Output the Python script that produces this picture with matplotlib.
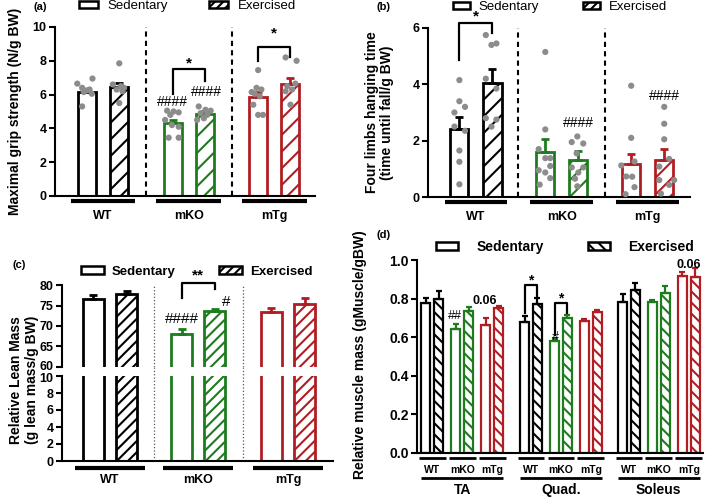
import numpy as np
import matplotlib.pyplot as plt
from matplotlib.patches import Patch
from matplotlib.transforms import blended_transform_factory, ScaledTranslation

plt.rcParams['font.family'] = ['Liberation Sans', 'DejaVu Sans']
plt.rcParams['hatch.linewidth'] = 1.5

W, H = 709, 497
GREEN = '#1e7b1e'
RED = '#b01e23'
GREY = '#8c8c8c'
colors = ['black', GREEN, RED]
genotypes = ['WT', 'mKO', 'mTg']
legend_labels = ['Sedentary', 'Exercised']

# (a) maximal grip strength, order: WT sed, WT ex, mKO sed, mKO ex, mTg sed, mTg ex
grip_mean = [6.15, 6.45, 4.3, 4.85, 5.85, 6.65]
grip_err = [0.15, 0.25, 0.2, 0.15, 0.3, 0.35]
grip_pts = [
    [6.65, 6.4, 6.95, 6.25, 6.05, 6.3, 5.3, 6.15],
    [7.85, 6.6, 6.5, 6.4, 6.3, 6.2, 5.5],
    [5.05, 5.0, 4.95, 4.8, 4.5, 4.2, 4.1, 3.45, 3.45],
    [5.3, 5.1, 5.05, 4.9, 4.8, 4.6, 4.5],
    [7.45, 6.4, 6.3, 6.15, 6.05, 5.4, 4.8, 4.8, 5.9],
    [8.2, 8.0, 6.5, 6.3, 6.2, 5.4, 6.65],
]
grip_dx = [
    [-0.3, -0.15, 0.17, 0.0, 0.15, 0.08, -0.15, -0.1],
    [0.0, -0.2, 0.05, 0.15, -0.08, 0.1, 0.0],
    [-0.17, 0.03, 0.19, -0.07, -0.23, -0.02, 0.19, -0.12, 0.19],
    [-0.19, 0.02, 0.18, -0.13, 0.07, -0.03, -0.24],
    [0.0, -0.05, 0.1, -0.2, -0.1, -0.15, 0.0, 0.15, 0.05],
    [-0.15, 0.19, -0.1, 0.05, -0.15, 0.0, 0.15],
]

# (b) four limbs hanging time
hang_mean = [2.41, 4.05, 1.58, 1.32, 1.17, 1.3]
hang_err = [0.43, 0.5, 0.47, 0.3, 0.37, 0.4]
hang_pts = [
    [4.15, 3.4, 3.0, 3.2, 2.5, 2.35, 1.65, 1.25, 0.45],
    [5.75, 5.4, 5.45, 4.2, 3.85, 2.8, 2.75, 2.5],
    [5.15, 2.4, 1.7, 1.38, 1.38, 1.1, 0.95, 0.87, 0.67, 0.44],
    [2.15, 1.95, 1.9, 1.55, 1.05, 1.05, 0.87, 0.65, 0.38],
    [3.95, 2.1, 1.12, 1.26, 0.73, 0.72, 0.35, 0.1],
    [3.2, 2.6, 2.05, 1.35, 1.08, 0.6, 0.6, 0.43, 0.12],
]
hang_dx = [
    [0.0, 0.0, -0.15, 0.17, -0.15, 0.17, 0.0, 0.0, 0.0],
    [-0.2, -0.03, 0.12, -0.2, 0.12, -0.2, 0.12, -0.03],
    [0.0, 0.0, -0.2, 0.0, 0.15, 0.15, -0.2, 0.0, 0.15, -0.17],
    [-0.03, -0.2, 0.15, -0.05, -0.2, 0.15, 0.0, -0.1, -0.03],
    [0.0, 0.0, -0.3, 0.1, -0.15, 0.03, 0.1, -0.17],
    [0.0, 0.0, 0.0, 0.15, -0.15, 0.3, -0.15, 0.15, -0.1],
]

# (c) relative lean mass
lean_mean = [76.6, 77.8, 68.1, 73.7, 73.3, 75.4]
lean_err = [1.0, 0.8, 1.2, 0.5, 1.2, 1.4]

# (d) relative muscle mass: TA, Quad., Soleus
muscles = ['TA', 'Quad.', 'Soleus']
muscle_mean = [
    [0.776, 0.80, 0.642, 0.734, 0.664, 0.75],
    [0.681, 0.772, 0.578, 0.70, 0.684, 0.733],
    [0.784, 0.845, 0.781, 0.828, 0.917, 0.914],
]
muscle_err = [
    [0.025, 0.04, 0.024, 0.021, 0.036, 0.012],
    [0.031, 0.03, 0.014, 0.014, 0.009, 0.008],
    [0.038, 0.034, 0.012, 0.038, 0.023, 0.043],
]


def box(l, t, r, b):
    return [l / W, 1 - b / H, (r - l) / W, (b - t) / H]


def style(ax, ticksize=9):
    for s in ['top', 'right']:
        ax.spines[s].set_visible(False)
    for s in ['left', 'bottom']:
        ax.spines[s].set_linewidth(1.5)
    ax.set_xticks([])
    ax.tick_params(axis='y', width=1.5, length=4, labelsize=ticksize, pad=2)
    for t in ax.get_yticklabels():
        t.set_fontweight('bold')


def bars(ax, xs, means, errs, width, hatch, lw=2.0, cap=3):
    for i, (x, m, e) in enumerate(zip(xs, means, errs)):
        col = colors[(i // 2) % 3]
        ax.bar(x, m, width, facecolor='white', edgecolor=col, linewidth=lw,
               hatch=hatch if i % 2 else None, zorder=2)
        ax.errorbar(x, m, yerr=[[0], [e]], fmt='none', ecolor=col,
                    elinewidth=lw, capsize=cap, capthick=lw, zorder=3)


def dots(ax, xs, pts, dx):
    for x, p, d in zip(xs, pts, dx):
        ax.scatter(np.array(d) + x, p, s=20, color=GREY, edgecolors='none',
                   zorder=4, clip_on=False)


def group_lines(ax, centers, half, yline, ylab, size=9, lw=3):
    tr = blended_transform_factory(ax.transData, ax.transAxes)
    for c, g in zip(centers, genotypes):
        ax.plot([c - half, c + half], [yline, yline], color='black', lw=lw,
                transform=tr, clip_on=False, solid_capstyle='butt')
        ax.text(c, ylab, g, transform=tr, ha='center', va='center',
                fontsize=size, fontweight='bold')


def bracket(ax, x1, x2, y1, y2, top, label, ty, size=11):
    ax.plot([x1, x1, x2, x2], [y1, top, top, y2], color='black', lw=1.6,
            clip_on=False, zorder=5)
    ax.text((x1 + x2) / 2, ty, label, ha='center', va='center',
            fontsize=size, fontweight='bold', clip_on=False)


def legend(x, y, hatch, size, weight, hl, hh, pad, colsp):
    h = [Patch(facecolor='white', edgecolor='black', linewidth=1.8),
         Patch(facecolor='white', edgecolor='black', linewidth=1.8, hatch=hatch)]
    fig.legend(h, legend_labels, loc='center', bbox_to_anchor=(x / W, 1 - y / H),
               ncol=2, frameon=False, prop={'size': size, 'weight': weight},
               handlelength=hl, handleheight=hh, handletextpad=pad,
               columnspacing=colsp, borderpad=0, borderaxespad=0)


fig = plt.figure(figsize=(W / 100, H / 100), dpi=100)

# ---------------- (a)
ax = fig.add_axes(box(55, 27, 315, 196))
centers = [0, 2.65, 5.3]
xs = [c + k for c in centers for k in (-0.5, 0.5)]
bars(ax, xs, grip_mean, grip_err, 0.56, '//')
dots(ax, xs, grip_pts, grip_dx)
ax.set_xlim(-1.49, 6.56)
ax.set_ylim(0, 10)
ax.set_yticks(range(0, 11, 2))
style(ax)
for s in (1.33, 3.98):
    ax.axvline(s, color='black', lw=1.5, ls=(0, (2.5, 2)))
group_lines(ax, centers, 1.0, -0.03, -0.118)
ax.set_ylabel('Maximal grip strength (N/g BW)', fontsize=10, fontweight='bold')
ax.yaxis.set_label_coords(-0.127, 0.5)
bracket(ax, xs[2], xs[3], 6.04, 6.8, 7.5, '*', 7.85)
bracket(ax, xs[4], xs[5], 8.0, 8.2, 8.82, '*', 9.6)
ax.text(xs[2], 5.58, '####', ha='center', va='center', fontsize=10)
ax.text(xs[3] + 0.05, 6.17, '####', ha='center', va='center', fontsize=10)
fig.text(33 / W, 1 - 7 / H, '(a)', fontsize=8, fontweight='bold', va='center')
legend(187.5, 6, '////', 9.5, 'normal', 1.45, 0.45, 0.75, 3.1)

# ---------------- (b)
ax = fig.add_axes(box(428, 28, 690, 197))
centers = [0, 2.6, 5.2]
xs = [c + k for c in centers for k in (-0.5, 0.5)]
bars(ax, xs, hang_mean, hang_err, 0.55, '//')
dots(ax, xs, hang_pts, hang_dx)
ax.set_xlim(-1.45, 6.48)
ax.set_ylim(0, 6)
ax.set_yticks([0, 2, 4, 6])
style(ax)
for s in (1.26, 3.91):
    ax.axvline(s, color='black', lw=1.5, ls=(0, (2.5, 2)))
group_lines(ax, centers, 0.95, -0.03, -0.118)
ax.set_ylabel('Four limbs hanging time\n(time until fall/g BW)', fontsize=10,
              fontweight='bold', linespacing=1.1)
ax.yaxis.set_label_coords(-0.13, 0.5)
bracket(ax, xs[0], xs[1], 4.87, 5.82, 6.17, '*', 6.4)
ax.text(xs[3], 2.63, '####', ha='center', va='center', fontsize=10)
ax.text(xs[5], 3.57, '####', ha='center', va='center', fontsize=10)
fig.text(377 / W, 1 - 7 / H, '(b)', fontsize=8, fontweight='bold', va='center')
legend(560, 7, '////', 9.5, 'normal', 1.3, 0.45, 0.7, 3.3)

# ---------------- (c) broken axis
centers = [0, 2.65, 5.35]
xs = [c + k for c in centers for k in (-0.5, 0.5)]
axu = fig.add_axes(box(62, 285, 333, 367))
axl = fig.add_axes(box(62, 376, 333, 461))
for a in (axu, axl):
    bars(a, xs, lean_mean, lean_err, 0.63, '///')
    a.set_xlim(-1.44, 6.7)
axu.set_ylim(60, 80)
axu.set_yticks([60, 65, 70, 75, 80])
axl.set_ylim(0, 10)
axl.set_yticks(range(0, 11, 2))
for a in (axu, axl):
    style(a, ticksize=9)
axu.spines['bottom'].set_visible(False)
# nudge the two labels either side of the break apart a little
axu.get_yticklabels()[0].set_transform(
    axu.get_yticklabels()[0].get_transform() + ScaledTranslation(0, 2 / 100, fig.dpi_scale_trans))
axl.get_yticklabels()[-1].set_transform(
    axl.get_yticklabels()[-1].get_transform() + ScaledTranslation(0, -2 / 100, fig.dpi_scale_trans))
for s in (1.32, 4.0):
    axu.axvline(s, color='#555555', lw=0.9, ls=':')
    axl.axvline(s, color='#555555', lw=0.9, ls=':', ymax=1 + 9 / 85, clip_on=False)
group_lines(axl, centers, 1.05, -0.085, -0.22)
fig.text(24 / W, 1 - 380 / H, 'Relative Lean Mass\n(g lean mass/g BW)', rotation=90,
         ha='center', va='center', fontsize=10, fontweight='bold', linespacing=1.1)
bracket(axu, xs[2], xs[3], 76.8, 79.0, 80.4, '**', 82.3)
axu.text(xs[2], 71.6, '####', ha='center', va='center', fontsize=11)
axu.text(xs[3] + 0.35, 75.9, '#', ha='center', va='center', fontsize=11)
fig.text(12 / W, 1 - 265 / H, '(c)', fontsize=8, fontweight='bold', va='center')
legend(196.5, 272, '////', 9.5, 'bold', 1.75, 0.55, 0.6, 3.3)

# ---------------- (d)
ax = fig.add_axes(box(417, 260, 703, 453))
offsets = [0, 7.9, 15.75]
within = [0, 1.02, 2.4, 3.42, 4.8, 5.82]
tr = blended_transform_factory(ax.transData, ax.transAxes)
for m, off in enumerate(offsets):
    xs = [off + w for w in within]
    bars(ax, xs, muscle_mean[m], muscle_err[m], 0.72, '\\\\\\', lw=1.6, cap=2)
    pc = [off + (within[2 * g] + within[2 * g + 1]) / 2 for g in range(3)]
    group_lines(ax, pc, 1.07, -0.026, -0.088, size=7.5, lw=2)
    mid = off + (within[0] + within[-1]) / 2
    ax.plot([mid - 3.3, mid + 3.3], [-0.13, -0.13], color='black', lw=2,
            transform=tr, clip_on=False, solid_capstyle='butt')
    ax.text(mid, -0.19, muscles[m], transform=tr, ha='center', va='center',
            fontsize=10, fontweight='bold')
ax.set_xlim(-0.72, 22.2)
ax.set_ylim(0, 1.0)
ax.set_yticks(np.arange(0, 1.01, 0.2))
ax.set_yticklabels(['%.1f' % v for v in np.arange(0, 1.01, 0.2)])
style(ax, ticksize=10)
bracket(ax, 7.9, 8.92, 0.724, 0.81, 0.87, '*', 0.895, size=10)
bracket(ax, 10.3, 11.32, 0.61, 0.724, 0.775, '*', 0.80, size=10)
ax.text(2.32, 0.71, '##', ha='center', va='center', fontsize=9)
ax.text(10.4, 0.60, '#', ha='center', va='center', fontsize=9)
ax.text(4.72, 0.79, '0.06', ha='center', va='center', fontsize=9, fontweight='bold')
ax.text(21.04, 0.974, '0.06', ha='center', va='center', fontsize=9, fontweight='bold')
fig.text(360 / W, 1 - 355 / H, 'Relative muscle mass (gMuscle/gBW)', rotation=90,
         ha='center', va='center', fontsize=10, fontweight='bold')
fig.text(377 / W, 1 - 235 / H, '(d)', fontsize=8, fontweight='bold', va='center')
legend(565, 247, '\\\\\\', 10, 'bold', 1.6, 0.5, 1.3, 3.2)

fig.savefig('out.png', dpi=100)
